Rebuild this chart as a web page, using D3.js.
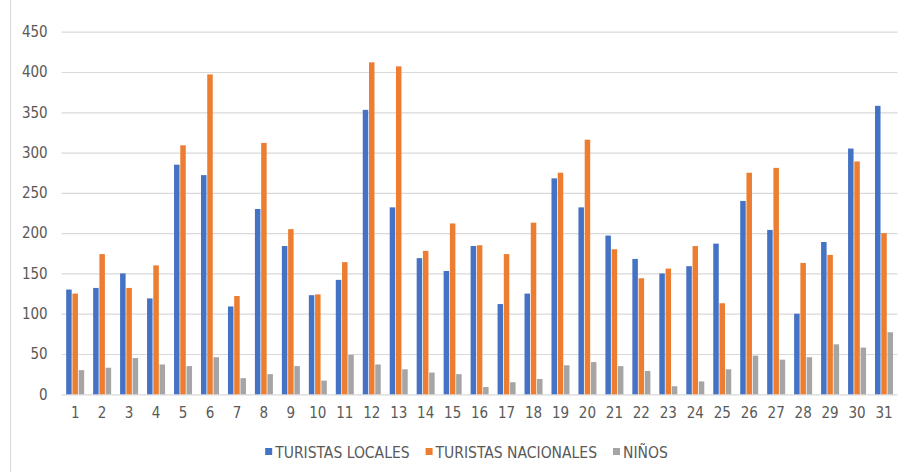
<!DOCTYPE html>
<html>
<head>
<meta charset="utf-8">
<script src="https://cdn.jsdelivr.net/npm/d3@7"></script>
<style>
  html, body { margin: 0; padding: 0; background: #fff; }
  svg { display: block; }
  text { font-family: "Liberation Sans Narrow", "Arial Narrow", "DejaVu Sans Condensed", sans-serif; fill: #595959; }
</style>
</head>
<body>
<svg id="chart" width="906" height="472"></svg>
<script>
const categories = ["1","2","3","4","5","6","7","8","9","10","11","12","13","14","15","16","17","18","19","20","21","22","23","24","25","26","27","28","29","30","31"];
const seriesNames = ["TURISTAS LOCALES", "TURISTAS NACIONALES", "NIÑOS"];
const turistasLocales = [130,132,150,119,285,272,109,230,184,123,142,353,232,169,153,184,112,125,268,232,197,168,150,159,187,240,204,100,189,305,358];
const turistasNacionales = [125,174,132,160,309,397,122,312,205,124,164,412,407,178,212,185,174,213,275,316,180,144,156,184,113,275,281,163,173,289,200];
const ninos = [30,33,45,37,35,46,20,25,35,17,49,37,31,27,25,9,15,19,36,40,35,29,10,16,31,48,43,46,62,58,77];
const yTicks = [0,50,100,150,200,250,300,350,400,450];
const colors = ["#4472C4", "#ED7D31", "#A5A5A5"];

const seriesValues = [turistasLocales, turistasNacionales, ninos];
const svg = d3.select("#chart");

const x = d3.scaleBand().domain(categories).range([61.7, 897.5]).paddingInner(0).paddingOuter(0);
const y = d3.scaleLinear().domain([0, 450]).range([394.3, 31.7]);
const xs = d3.scaleBand().domain(d3.range(3)).range([0, 18]).paddingInner(0.12);

// chart frame (left edge visible)
svg.append("line").attr("x1", 10.5).attr("x2", 10.5).attr("y1", 0).attr("y2", 472)
  .attr("stroke", "#d9d9d9").attr("stroke-width", 1);

// gridlines
const yAxis = d3.axisLeft(y).tickValues(yTicks).tickSize(-(897.5 - 61.7)).tickPadding(14);
const gy = svg.append("g").attr("transform", "translate(61.7,0)").call(yAxis);
gy.select(".domain").remove();
gy.selectAll(".tick line").attr("stroke", "#d9d9d9").attr("stroke-width", 1.2);
gy.selectAll(".tick text").style("font-size", "15px").attr("fill", "#595959").attr("x", -14);

// x axis labels
const xAxis = d3.axisBottom(x).tickSize(0).tickPadding(13);
const gx = svg.append("g").attr("transform", "translate(0,394.3)").call(xAxis);
gx.select(".domain").remove();
gx.selectAll(".tick text").style("font-size", "15px").attr("fill", "#595959");

// bars
seriesValues.forEach((vals, si) => {
  svg.append("g").selectAll("rect").data(vals).join("rect")
    .attr("x", (d, i) => x(categories[i]) + x.bandwidth() / 2 - 9 + xs(si))
    .attr("width", xs.bandwidth())
    .attr("y", d => y(d))
    .attr("height", d => y(0) - y(d))
    .attr("fill", colors[si]);
});

// legend
const legend = svg.append("g");
const items = seriesNames.map((name, i) => {
  const g = legend.append("g");
  g.append("rect").attr("width", 7).attr("height", 7).attr("y", -4).attr("fill", colors[i]);
  const t = g.append("text").text(name).attr("x", 10).attr("dy", "0.36em").style("font-size", "15.5px");
  return { g, w: 10 + t.node().getComputedTextLength() };
});
const gap = 16;
const total = d3.sum(items, d => d.w) + gap * (items.length - 1);
let cx = 466.5 - total / 2;
items.forEach(it => { it.g.attr("transform", `translate(${cx},452)`); cx += it.w + gap; });
</script>
</body>
</html>
